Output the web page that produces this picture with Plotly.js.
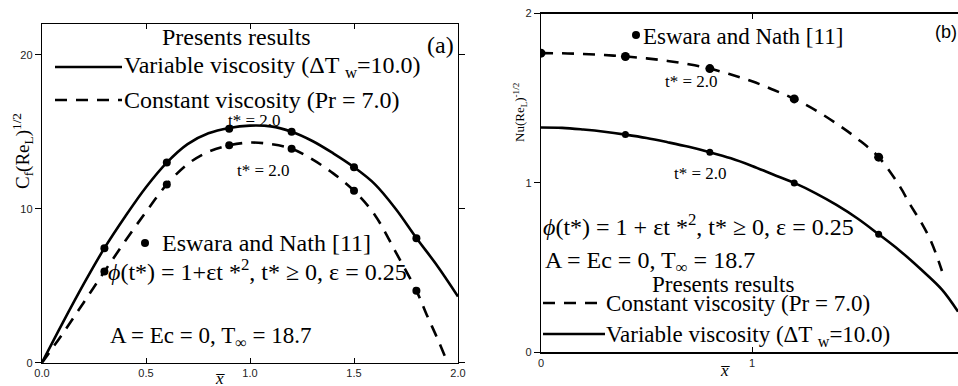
<!DOCTYPE html>
<html><head><meta charset="utf-8">
<script src="https://cdn.plot.ly/plotly-3.0.1.min.js"></script>
<style>html,body{margin:0;padding:0;background:#fff}#chart{width:958px;height:386px}</style>
</head><body><div id="chart"></div>
<script>
// ---------- Panel (a): skin friction ----------
const xA = [0, 0.1, 0.2, 0.3, 0.4, 0.5, 0.6, 0.7, 0.8, 0.9, 1.0, 1.1, 1.2, 1.3, 1.4, 1.5, 1.6, 1.7, 1.8, 1.9, 2.0];
const cfVariable = [0, 2.6, 5.1, 7.44, 9.5, 11.4, 13.0, 14.2, 14.9, 15.25, 15.4, 15.35, 15.0, 14.4, 13.6, 12.7, 11.6, 10.0, 8.1, 6.3, 4.3];
const xAc = [0, 0.1, 0.2, 0.3, 0.4, 0.5, 0.6, 0.7, 0.8, 0.9, 1.0, 1.1, 1.2, 1.3, 1.4, 1.5, 1.6, 1.7, 1.8, 1.85, 1.9, 1.95];
const cfConstant = [0, 1.9, 3.9, 5.92, 7.9, 9.8, 11.58, 12.9, 13.7, 14.12, 14.3, 14.2, 13.9, 13.2, 12.3, 11.17, 9.6, 7.2, 4.68, 3.1, 1.6, 0];
const xEswaraA = [0.3, 0.6, 0.9, 1.2, 1.5, 1.8];
const cfEswaraVariable = [7.44, 13.0, 15.2, 15.0, 12.7, 8.09];
const cfEswaraConstant = [5.92, 11.58, 14.12, 13.9, 11.17, 4.68];
const xTickValsA = [0, 0.5, 1.0, 1.5, 2.0];
const xTickTextA = ['0.0', '0.5', '1.0', '1.5', '2.0'];
const yTickValsA = [0, 10, 20];

// ---------- Panel (b): Nusselt number ----------
const xB = [0, 0.1, 0.2, 0.3, 0.4, 0.5, 0.6, 0.7, 0.8, 0.9, 1.0, 1.1, 1.2, 1.3, 1.4, 1.5, 1.6, 1.7, 1.8, 1.9, 1.976];
const nuVariable = [1.327, 1.325, 1.315, 1.302, 1.285, 1.265, 1.24, 1.213, 1.181, 1.145, 1.10, 1.05, 1.0, 0.94, 0.87, 0.79, 0.697, 0.60, 0.49, 0.37, 0.24];
const xBc = [0, 0.1, 0.2, 0.3, 0.4, 0.5, 0.6, 0.7, 0.8, 0.9, 1.0, 1.1, 1.2, 1.3, 1.4, 1.5, 1.6, 1.7, 1.75, 1.8, 1.85, 1.9];
const nuConstant = [1.766, 1.765, 1.761, 1.755, 1.746, 1.735, 1.72, 1.70, 1.675, 1.64, 1.60, 1.55, 1.496, 1.43, 1.35, 1.26, 1.152, 0.98, 0.87, 0.77, 0.65, 0.48];
const xEswaraBv = [0.4, 0.8, 1.2, 1.6];
const nuEswaraVariable = [1.285, 1.181, 1.0, 0.697];
const xEswaraBc = [0, 0.4, 0.8, 1.2, 1.6];
const nuEswaraConstant = [1.766, 1.746, 1.675, 1.496, 1.152];
const xTickValsB = [0, 1];
const yTickValsB = [0, 1, 2];

const W = 958, H = 386;
const px = v => v / W, py = v => 1 - v / H;
const SERIF = 'Liberation Serif';
const SANS = 'Liberation Sans';
const LW = 2.6, DASH = '12px,9px';

const traces = [
  {x: xA, y: cfVariable, xaxis: 'x', yaxis: 'y', mode: 'lines', line: {color: '#000', width: LW, shape: 'spline'}},
  {x: xAc, y: cfConstant, xaxis: 'x', yaxis: 'y', mode: 'lines', line: {color: '#000', width: LW, dash: DASH, shape: 'spline'}},
  {x: xEswaraA, y: cfEswaraVariable, xaxis: 'x', yaxis: 'y', mode: 'markers', marker: {color: '#000', size: 8}},
  {x: xEswaraA, y: cfEswaraConstant, xaxis: 'x', yaxis: 'y', mode: 'markers', marker: {color: '#000', size: 8}},
  {x: xB, y: nuVariable, xaxis: 'x2', yaxis: 'y2', mode: 'lines', line: {color: '#000', width: LW, shape: 'spline'}},
  {x: xBc, y: nuConstant, xaxis: 'x2', yaxis: 'y2', mode: 'lines', line: {color: '#000', width: LW, dash: DASH, shape: 'spline'}},
  {x: xEswaraBv, y: nuEswaraVariable, xaxis: 'x2', yaxis: 'y2', mode: 'markers', marker: {color: '#000', size: 7}},
  {x: xEswaraBc, y: nuEswaraConstant, xaxis: 'x2', yaxis: 'y2', mode: 'markers', marker: {color: '#000', size: 9}}
];

const axBase = {showgrid: false, zeroline: false, showline: true, linecolor: '#000', linewidth: 1.2,
  tickcolor: '#000', tickwidth: 1, automargin: false, fixedrange: true,
  tickfont: {family: SANS, size: 11, color: '#222'}};

function ann(text, x, y, size, opts) {
  return Object.assign({text: text, x: px(x), y: py(y), xref: 'paper', yref: 'paper', showarrow: false,
    xanchor: 'center', yanchor: 'middle', font: {family: SERIF, size: size, color: '#000'}}, opts || {});
}
function sample(x0, x1, y, dash) {
  return {type: 'line', xref: 'paper', yref: 'paper', x0: px(x0), x1: px(x1), y0: py(y), y1: py(y),
    line: {color: '#000', width: LW, dash: dash ? DASH : 'solid'}};
}
function dot(x, y, r) {
  return {type: 'circle', xref: 'paper', yref: 'paper', x0: px(x - r), x1: px(x + r), y0: py(y + r), y1: py(y - r),
    fillcolor: '#000', line: {color: '#000', width: 0}};
}

const annotations = [
  // panel (a)
  ann('Presents results', 236, 37, 24),
  ann('Variable viscosity (ΔT <sub>w</sub>=10.0)', 122, 67, 24, {xanchor: 'left'}),
  ann('Constant viscosity (Pr = 7.0)', 122, 100, 24, {xanchor: 'left'}),
  ann('(a)', 440, 45, 24),
  ann('t* = 2.0', 255, 120, 17),
  ann('t* = 2.0', 263, 170, 17),
  ann('Eswara and Nath [11]', 160, 243, 24, {xanchor: 'left'}),
  ann('<i>ϕ</i>(t*) = 1+εt *<sup>2</sup>, t* ≥ 0, ε = 0.25', 106, 270, 24, {xanchor: 'left'}),
  ann('A = Ec = 0, T<sub>∞</sub> = 18.7', 108, 337, 23, {xanchor: 'left'}),
  ann('C<sub>f</sub>(Re<sub>L</sub>)<sup>1/2</sup>', 22, 151, 19, {textangle: -90}),
  ann('<i>x̅</i>', 220, 378, 17),
  // panel (b)
  ann('Eswara and Nath [11]', 641, 36, 23, {xanchor: 'left'}),
  ann('(b)', 959, 32, 18, {xanchor: 'right', font: {family: SANS, size: 18, color: '#000'}}),
  ann('t* = 2.0', 691, 82, 17),
  ann('t* = 2.0', 700, 173, 17),
  ann('<i>ϕ</i>(t*) = 1 + εt *<sup>2</sup>, t* ≥ 0, ε = 0.25', 541, 225, 24, {xanchor: 'left'}),
  ann('A = Ec = 0, T<sub>∞</sub> = 18.7', 543, 262, 24, {xanchor: 'left'}),
  ann('Presents results', 723, 284, 23),
  ann('Constant viscosity (Pr = 7.0)', 604, 303, 23, {xanchor: 'left'}),
  ann('Variable viscosity (ΔT <sub>w</sub>=10.0)', 604, 336, 23, {xanchor: 'left'}),
  ann('Nu(Re<sub>L</sub>)<sup>-1/2</sup>', 520, 112, 13, {textangle: -90}),
  ann('<i>x̅</i>', 725, 370, 17)
];

const shapes = [
  sample(55, 122, 67, false),
  sample(55, 122, 100, true),
  dot(145, 243, 4),
  sample(543, 605, 303, true),
  sample(543, 605, 334, false),
  dot(636, 35, 4)
];

const layout = {
  width: W, height: H, margin: {l: 0, r: 0, t: 0, b: 0, pad: 0},
  paper_bgcolor: '#fff', plot_bgcolor: 'rgba(0,0,0,0)', showlegend: false,
  xaxis: Object.assign({}, axBase, {domain: [px(42), px(458)], range: [0, 2], anchor: 'y',
    tickmode: 'array', tickvals: xTickValsA, ticktext: xTickTextA, ticks: 'inside', ticklen: 5, mirror: 'ticks'}),
  yaxis: Object.assign({}, axBase, {domain: [py(362.7), py(24)], range: [0, 22], anchor: 'x',
    tickmode: 'array', tickvals: yTickValsA, ticks: 'outside', ticklen: 6, mirror: 'ticks'}),
  xaxis2: Object.assign({}, axBase, {domain: [px(541), 1], range: [0, 1.976], anchor: 'y2',
    tickmode: 'array', tickvals: xTickValsB, ticks: 'inside', ticklen: 5, mirror: 'ticks'}),
  yaxis2: Object.assign({}, axBase, {domain: [py(352.3), py(13.5)], range: [0, 2], anchor: 'x2',
    tickmode: 'array', tickvals: yTickValsB, ticks: 'outside', ticklen: 6, mirror: false}),
  annotations: annotations,
  shapes: shapes
};

Plotly.newPlot('chart', traces, layout, {staticPlot: true, displayModeBar: false});
</script>
</body></html>
